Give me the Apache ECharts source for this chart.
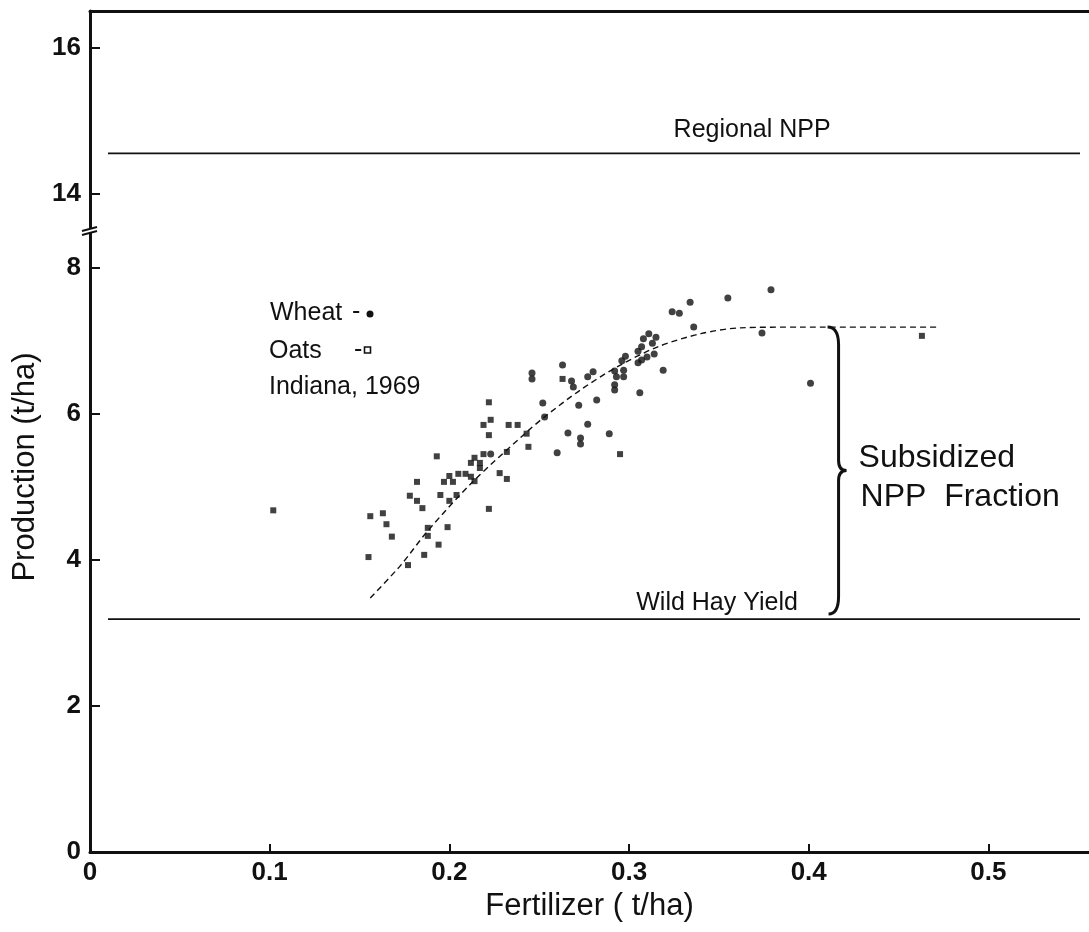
<!DOCTYPE html>
<html><head><meta charset="utf-8">
<script src="https://cdn.jsdelivr.net/npm/echarts@6/dist/echarts.min.js"></script>
<style>html,body{margin:0;padding:0;background:#fff}#c{width:1089px;height:932px}</style>
</head><body><div id="c"></div>
<script>
// ---------- data ----------
const xTicks = [0, 0.1, 0.2, 0.3, 0.4, 0.5];
const yTicksLow = [0, 2, 4, 6, 8];
const yTicksHigh = [14, 16];

const oats = [
  [0.102,4.68],[0.156,4.60],[0.163,4.64],[0.165,4.49],[0.168,4.32],[0.155,4.04],
  [0.177,3.93],[0.186,4.07],[0.188,4.44],[0.188,4.33],[0.194,4.21],[0.199,4.45],
  [0.178,4.88],[0.182,4.81],[0.185,4.71],[0.182,5.07],[0.193,5.42],[0.195,4.89],
  [0.200,4.81],[0.197,5.07],[0.202,5.07],[0.200,5.15],[0.204,4.89],[0.205,5.18],
  [0.209,5.18],[0.212,5.14],[0.214,5.08],[0.212,5.33],[0.217,5.33],[0.214,5.40],
  [0.217,5.26],[0.219,5.45],[0.219,5.85],[0.223,5.92],[0.222,6.16],[0.222,5.71],
  [0.222,4.70],[0.228,5.19],[0.232,5.48],[0.232,5.11],[0.233,5.85],[0.238,5.85],
  [0.243,5.73],[0.244,5.55],[0.263,6.48],[0.295,5.45],[0.463,7.07]
];
const wheat = [
  [0.223,5.45],[0.246,6.56],[0.246,6.48],[0.252,6.15],[0.253,5.96],[0.260,5.47],
  [0.263,6.67],[0.266,5.74],[0.268,6.45],[0.269,6.37],[0.272,6.12],[0.273,5.67],
  [0.273,5.59],[0.277,5.86],[0.277,6.51],[0.280,6.58],[0.282,6.19],[0.289,5.73],
  [0.292,6.59],[0.292,6.40],[0.292,6.33],[0.293,6.51],[0.297,6.51],[0.297,6.60],
  [0.296,6.73],[0.298,6.79],[0.305,6.86],[0.307,6.92],[0.305,6.70],[0.307,6.74],
  [0.310,6.78],[0.306,6.29],[0.308,7.03],[0.311,7.10],[0.315,7.05],[0.313,6.97],
  [0.314,6.82],[0.319,6.60],[0.324,7.40],[0.328,7.38],[0.334,7.53],[0.336,7.19],
  [0.355,7.59],[0.379,7.70],[0.374,7.11],[0.401,6.42]
];
const fitCurve = [
  [0.156,3.48],[0.173,3.93],[0.188,4.40],[0.213,5.07],[0.242,5.73],[0.253,5.96],
  [0.273,6.33],[0.293,6.64],[0.316,6.92],[0.340,7.10],[0.362,7.18],[0.396,7.19],[0.472,7.19]
];
const wildHayYield = 3.19;
const regionalNPP = 14.55;
const refLineX = [0.01, 0.551];
const plateau = 7.19;
const braceX = 0.4105;
const braceSpan = [[braceX, plateau, wildHayYield]];

// ---------- chart ----------
const FONT = '"Liberation Sans", Arial, Helvetica, sans-serif';
const INK = '#111';
const chart = echarts.init(document.getElementById('c'), null, {renderer: 'canvas'});

const axisLineStyle = {show: true, onZero: false, lineStyle: {color: INK, width: 3}};
const tickLabel = {fontSize: 26, fontWeight: 'bold', color: INK, fontFamily: FONT};

function braceItem(params, api) {
  const a = api.coord([api.value(0), api.value(1)]);
  const b = api.coord([api.value(0), api.value(2)]);
  const x0 = a[0], xv = x0 + 11, xt = x0 + 19;
  const yT = a[1], yB = b[1] - 5, yM = (yT + yB) / 2;
  const d = `M${x0},${yT} Q${xv},${yT} ${xv},${yT + 18} L${xv},${yM - 10} Q${xv},${yM} ${xt},${yM} ` +
            `Q${xv},${yM} ${xv},${yM + 10} L${xv},${yB - 18} Q${xv},${yB} ${x0 + 1},${yB}`;
  return {
    type: 'group',
    children: [
      {type: 'path', shape: {pathData: d}, style: {fill: null, stroke: INK, lineWidth: 3}},
      {type: 'text', x: xt + 12, y: yM - 12,
       style: {text: 'Subsidized', fill: INK, fontSize: 32, fontFamily: FONT, align: 'left', verticalAlign: 'middle'}},
      {type: 'text', x: xt + 14, y: yM + 27,
       style: {text: 'NPP  Fraction', fill: INK, fontSize: 32, fontFamily: FONT, align: 'left', verticalAlign: 'middle'}}
    ]
  };
}

chart.setOption({
  animation: false,
  backgroundColor: '#fff',
  grid: [
    {left: 90, right: 0, top: 11, height: 219},
    {left: 90, right: 0, top: 230, height: 622}
  ],
  xAxis: [
    {gridIndex: 0, type: 'value', min: 0, max: 0.556, position: 'top',
     axisLine: axisLineStyle, axisTick: {show: false}, axisLabel: {show: false}, splitLine: {show: false}},
    {gridIndex: 1, type: 'value', min: 0, max: 0.556, position: 'bottom',
     axisLine: axisLineStyle,
     axisTick: {show: true, inside: true, length: 8, customValues: xTicks, lineStyle: {color: INK, width: 2}},
     axisLabel: Object.assign({customValues: xTicks, margin: 8,
       formatter: v => v === 0 ? '0' : v.toFixed(1)}, tickLabel),
     splitLine: {show: false},
     name: 'Fertilizer ( t/ha)', nameLocation: 'middle', nameGap: 38,
     nameTextStyle: {fontSize: 31, color: INK, fontFamily: FONT}}
  ],
  yAxis: [
    {gridIndex: 0, type: 'value', min: 13.5, max: 16.5,
     axisLine: axisLineStyle,
     axisTick: {show: true, inside: true, length: 10, customValues: yTicksHigh, lineStyle: {color: INK, width: 2}},
     axisLabel: Object.assign({customValues: yTicksHigh, margin: 9}, tickLabel),
     splitLine: {show: false}},
    {gridIndex: 1, type: 'value', min: 0, max: 8.52,
     axisLine: axisLineStyle,
     axisTick: {show: true, inside: true, length: 10, customValues: yTicksLow, lineStyle: {color: INK, width: 2}},
     axisLabel: Object.assign({customValues: yTicksLow, margin: 9}, tickLabel),
     splitLine: {show: false}}
  ],
  series: [
    {name: 'Regional NPP', type: 'line', xAxisIndex: 0, yAxisIndex: 0, showSymbol: false, silent: true,
     data: refLineX.map(x => [x, regionalNPP]), lineStyle: {color: INK, width: 1.8}},
    {name: 'Wild Hay Yield', type: 'line', xAxisIndex: 1, yAxisIndex: 1, showSymbol: false, silent: true,
     data: refLineX.map(x => [x, wildHayYield]), lineStyle: {color: INK, width: 1.8}},
    {name: 'Fit', type: 'line', xAxisIndex: 1, yAxisIndex: 1, showSymbol: false, smooth: 0.3, silent: true,
     data: fitCurve, lineStyle: {color: INK, width: 1.4, type: [6, 4]}},
    {name: 'Oats', type: 'scatter', xAxisIndex: 1, yAxisIndex: 1, symbol: 'rect', symbolSize: 6,
     data: oats, itemStyle: {color: INK}},
    {name: 'Wheat', type: 'scatter', xAxisIndex: 1, yAxisIndex: 1, symbol: 'circle', symbolSize: 7,
     data: wheat, itemStyle: {color: INK}},
    {name: 'Subsidized NPP Fraction', type: 'custom', xAxisIndex: 1, yAxisIndex: 1, silent: true,
     clip: false, renderItem: braceItem, data: braceSpan}
  ]
});

// ---------- annotations ----------
const toPx = (x, y) => chart.convertToPixel({xAxisIndex: 1, yAxisIndex: 1}, [x, y]);
const ax = toPx(0, 0)[0];
const breakY = toPx(0, 8.52)[1];

function txt(text, x, y, size, align, extra) {
  return Object.assign({
    type: 'text', x: x, y: y, silent: true,
    style: {text: text, fill: INK, fontSize: size, fontFamily: FONT,
            align: align, verticalAlign: 'middle', textAlign: align, textVerticalAlign: 'middle'}
  }, extra || {});
}

const wildPx = toPx(0.349, wildHayYield);
const nppPx = chart.convertToPixel({xAxisIndex: 0, yAxisIndex: 0}, [0.3685, regionalNPP]);

chart.setOption({
  graphic: [
    txt('Production (t/ha)', 25, 467, 31, 'center', {rotation: Math.PI / 2}),
    txt('Wheat', 270, 313, 25, 'left'),
    txt('-', 352, 312, 25, 'left'),
    {type: 'circle', shape: {cx: 370, cy: 314, r: 3.5}, style: {fill: INK}, silent: true},
    txt('Oats', 269, 351, 25, 'left'),
    txt('-', 354, 350, 25, 'left'),
    {type: 'rect', shape: {x: 364.5, y: 347, width: 6, height: 6}, style: {fill: '#fff', stroke: INK, lineWidth: 1.6}, silent: true},
    txt('Indiana, 1969', 269, 387, 25, 'left'),
    txt('Regional NPP', nppPx[0], nppPx[1] - 23, 25, 'center'),
    txt('Wild Hay Yield', wildPx[0], wildPx[1] - 16, 25, 'center'),
    {type: 'polygon', shape: {points: [[ax - 8, breakY + 1], [ax + 7, breakY - 3], [ax + 7, breakY + 1], [ax - 8, breakY + 5]]},
     style: {fill: '#fff'}, silent: true, z: 100},
    {type: 'line', shape: {x1: ax - 8, y1: breakY + 1, x2: ax + 7, y2: breakY - 3}, style: {stroke: INK, lineWidth: 2}, silent: true, z: 101},
    {type: 'line', shape: {x1: ax - 8, y1: breakY + 5, x2: ax + 7, y2: breakY + 1}, style: {stroke: INK, lineWidth: 2}, silent: true, z: 101}
  ]
});
</script>
</body></html>
